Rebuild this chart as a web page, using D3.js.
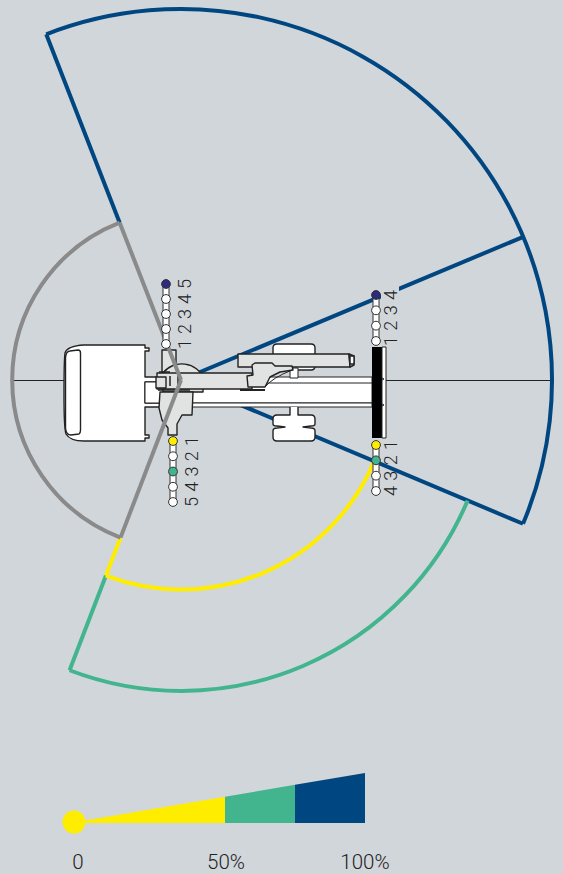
<!DOCTYPE html>
<html>
<head>
<meta charset="utf-8">
<script src="https://cdn.jsdelivr.net/npm/d3@7"></script>
<style>
  html, body { margin: 0; padding: 0; background: #d1d6da; overflow: hidden; }
  text { font-family: Roboto, "Liberation Sans", sans-serif; font-weight: 300; fill: #222; }
</style>
</head>
<body>
<div id="chart"></div>
<script>
// Reach as a percentage of the longest reach
const sectorColors = ["#004680", "#43b58e", "#ffed00", "#8a8a8a"];
const arcReach = [100, 83.8, 56.5, 45.5];
const arcStart = [-21.3, 112.8, 112.8, 201];
const arcEnd = [112.8, 201, 201, 338.7];

// Straight edges of the sectors
const rayAngle = [338.7, 338.7, 67.3, 112.8, 201, 201, 201];
const rayFrom = [0, 45.5, 0, 0, 0, 45.5, 56.5];
const rayTo = [45.5, 100, 100, 100, 45.5, 56.5, 83.8];
const rayColor = [3, 0, 0, 0, 3, 2, 1];

// Support positions, one list per row of dots
const frontTopLevels = ["1", "2", "3", "4", "5"];
const frontBottomLevels = ["1", "2", "3", "4", "5"];
const rearTopLevels = ["1", "2", "3", "4"];
const rearBottomLevels = ["1", "2", "3", "4"];
const frontTopColors = ["#fff", "#fff", "#fff", "#fff", "#2e2a7e"];
const frontBottomColors = ["#ffed00", "#fff", "#43b58e", "#fff", "#fff"];
const rearTopColors = ["#fff", "#fff", "#fff", "#2e2a7e"];
const rearBottomColors = ["#ffed00", "#43b58e", "#fff", "#fff"];

// Legend
const legendBreaks = [0, 50, 75, 100];
const legendColors = ["#ffed00", "#43b58e", "#004680"];
const legendTicks = [0, 50, 100];
const legendTickLabels = ["0", "50%", "100%"];

const width = 563, height = 874;
const cx = 181, cy = 380;

const svg = d3.select("#chart").append("svg")
  .attr("width", width)
  .attr("height", height)
  .style("display", "block");

const rad = d => d * Math.PI / 180;
const r = d3.scaleLinear().domain([0, 100]).range([0, 371]);

// centre line behind everything
svg.append("g").selectAll("line")
  .data([[12, 64], [386, 552]])
  .join("line")
  .attr("x1", d => d[0]).attr("x2", d => d[1])
  .attr("y1", cy + 0.5).attr("y2", cy + 0.5)
  .attr("stroke", "#222").attr("stroke-width", 1);

const radial = d3.lineRadial().angle(d => rad(d[0])).radius(d => r(d[1]));

function drawSectors(idx) {
  const g = svg.append("g").attr("transform", `translate(${cx},${cy})`);
  g.selectAll(null)
    .data(rayAngle.map((a, i) => i).filter(i => idx.includes(rayColor[i])))
    .join("path")
    .attr("d", i => radial([[rayAngle[i], rayFrom[i]], [rayAngle[i], rayTo[i]]]))
    .attr("fill", "none")
    .attr("stroke", i => sectorColors[rayColor[i]])
    .attr("stroke-width", 4);
  g.selectAll(null)
    .data(idx)
    .join("path")
    .attr("d", i => d3.arc()({
      innerRadius: r(arcReach[i]),
      outerRadius: r(arcReach[i]),
      startAngle: rad(arcStart[i]),
      endAngle: rad(arcEnd[i])
    }))
    .attr("fill", "none")
    .attr("stroke", i => sectorColors[i])
    .attr("stroke-width", 4);
}
drawSectors([0, 1, 2]);

// Break in the upper blue edge, next to the "4"
svg.append("rect")
  .attr("x", 381).attr("y", 283).attr("width", 18).attr("height", 16)
  .attr("fill", "#d1d6da");

// Machine outline
const truck = svg.append("g")
  .attr("stroke", "#222")
  .attr("stroke-width", 1.4)
  .attr("stroke-linejoin", "round");
const white = "#fff", grey = "#e1e2e2";

function part(d, fill, sw) {
  truck.append("path").attr("d", d).attr("fill", fill)
    .attr("stroke-width", sw || 1.4);
}

// cab
part("M145,345 L145,348 L149,348 L149,351 L145,351 L145,377 L160,377 L160,382 L145,382 L145,403 L160,403 L160,407 L145,407 L145,435 L149,435 L149,438 L145,438 L145,441 L84,441 Q70,441 66,434 Q64,428 64,395 Q64,360 65,353 Q67,346 84,345 Z", white);
part("M70,351 Q66,351 65.5,358 L65.5,428 Q66,435 71,435 L79,434 Q80.5,433 80.5,430 L80.5,353 Q80.5,350 78,350 Z", white);

// chassis
part("M145,382 L372,382 L372,403 L145,403 Z", white, 1);
part("M176,377 L372,377 L372,383 L176,383 Z", white, 1);
part("M165,403 L372,403 L372,407 L165,407 Z", white, 1);

// wheels
part("M277,344 L311,344 Q315,344 315,348 L315,366 Q315,370 311,370 L277,370 Q273,370 273,366 L273,348 Q273,344 277,344 Z", white);
part("M290,368 L298,368 L298,378 L290,378 Z", white, 1);
part("M290,407 L290,415 L277,415 Q273,415 273,419 L273,424 Q273,426 277,426 L285,427 L277,428 Q273,428 273,431 L273,437 Q273,441 277,441 L311,441 Q315,441 315,437 L315,431 Q315,428 311,428 L303,427 L311,426 Q315,426 315,424 L315,419 Q315,415 311,415 L298,415 L298,407", white);

// turret
part("M162,350 L176,350 L176,373 L162,373 Z", grey);
part("M163,373 A22,19 0 0 1 203,378 L203,392 L163,392 Z", grey);
part("M160,392 L193,392 L192,415 L182,415 L177,424 L177,435 L168,435 L168,428 L162,420 L159,408 Z", grey);
part("M157,373 L252,373 L252,389 L157,389 Z", grey);
part("M156,377 L166,377 L166,388 L156,388 Z", grey);
truck.append("path").attr("d", "M159,372 L170,372 M158,390 L190,390 M178,373 L178,389 M170,376 L170,386").attr("fill", "none").attr("stroke-width", 1.5);

// boom and linkage
part("M238,354 L349,354 L350,367 L238,367 Z", grey);
part("M349,354 L354,356 L354,365 L350,367 Z", grey);
part("M350,356 L354,356 L354,364 L350,364 Z", white);
part("M252,365 L255,363 L272,363 L275,366 L292,366 L293,370 L280,372 L270,377 L265,387 L248,387 L247,376 L253,375 Z", grey);
truck.append("path").attr("d", "M240,390 L265,390").attr("stroke-width", 2);
truck.append("path").attr("d", "M265,387 Q272,378 292,370").attr("fill", "none").attr("stroke-width", 1);

// rear beam
truck.append("rect").attr("x", 372).attr("y", 347).attr("width", 10).attr("height", 91).attr("fill", "#000").attr("stroke", "none");
part("M382,347 L386,347 L386,438 L382,438 L382,406 L384,405 L382,404 L382,380 L384,379 L382,378 Z", white, 1);

// grey sector sits in front of the machine
drawSectors([3]);

// Rows of support dots with their numbers
const rows = [
  { levels: frontTopLevels, colors: frontTopColors, x: 166, y: [344, 284], tx: 191 },
  { levels: frontBottomLevels, colors: frontBottomColors, x: 173, y: [441, 502], tx: 198 },
  { levels: rearTopLevels, colors: rearTopColors, x: 376, y: [341, 295], tx: 397 },
  { levels: rearBottomLevels, colors: rearBottomColors, x: 376, y: [445, 491], tx: 397 }
];

rows.forEach(row => {
  const y = d3.scalePoint().domain(row.levels).range(row.y);
  const g = svg.append("g");
  g.append("rect")
    .attr("x", row.x - 3)
    .attr("y", d3.min(row.y))
    .attr("width", 6)
    .attr("height", Math.abs(row.y[1] - row.y[0]))
    .attr("fill", "#fff")
    .attr("stroke", "#333")
    .attr("stroke-width", 1);
  g.selectAll("circle")
    .data(row.levels)
    .join("circle")
    .attr("cx", row.x)
    .attr("cy", d => y(d))
    .attr("r", 4.4)
    .attr("fill", (d, i) => row.colors[i])
    .attr("stroke", "#333")
    .attr("stroke-width", 1);
  g.selectAll("text")
    .data(row.levels)
    .join("text")
    .attr("transform", d => `translate(${row.tx},${y(d)}) rotate(-90)`)
    .attr("text-anchor", "middle")
    .attr("font-size", 18)
    .text(d => d);
});

// Legend wedge
const legendX = d3.scaleLinear().domain([0, 100]).range([85, 365]);
const legendH = d3.scaleLinear().domain([0, 100]).range([2.6, 50]);
const legendBase = 823;
const legend = svg.append("g");

legend.selectAll("path")
  .data(legendColors)
  .join("path")
  .attr("d", (d, i) => {
    const a = legendBreaks[i], b = legendBreaks[i + 1];
    return d3.line()([
      [legendX(a), legendBase],
      [legendX(a), legendBase - legendH(a)],
      [legendX(b), legendBase - legendH(b)],
      [legendX(b), legendBase]
    ]) + "Z";
  })
  .attr("fill", d => d);

legend.append("circle")
  .attr("cx", 74).attr("cy", 822).attr("r", 11.5)
  .attr("fill", legendColors[0]);

const tickX = d3.scaleLinear().domain([0, 50, 100]).range([78, 226, 365]);
legend.selectAll("text")
  .data(legendTicks)
  .join("text")
  .attr("x", d => tickX(d))
  .attr("y", 869)
  .attr("text-anchor", "middle")
  .attr("font-size", 20.5)
  .text((d, i) => legendTickLabels[i]);
</script>
</body>
</html>
